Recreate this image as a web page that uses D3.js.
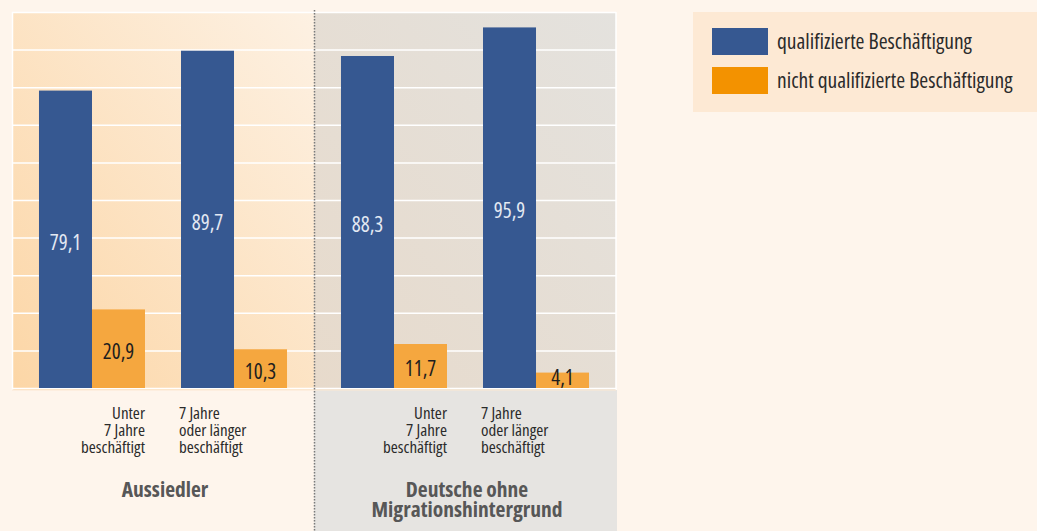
<!DOCTYPE html>
<html>
<head>
<meta charset="utf-8">
<script src="https://cdn.jsdelivr.net/npm/d3@7"></script>
<style>
  html, body { margin: 0; padding: 0; background: #fef5ec; }
  svg { display: block; }
  text { font-family: "Open Sans", "DejaVu Sans Condensed", sans-serif; font-stretch: 75%; }
</style>
</head>
<body>
<div id="chart"></div>
<script>
// Daten
const groups = ["Aussiedler", "Deutsche ohne Migrationshintergrund"];
const groupLines = [["Aussiedler"], ["Deutsche ohne", "Migrationshintergrund"]];
const categories = ["unter7", "ab7"];
const categoryLines = [["Unter", "7 Jahre", "beschäftigt"], ["7 Jahre", "oder länger", "beschäftigt"]];
const series = ["qualifizierte Beschäftigung", "nicht qualifizierte Beschäftigung"];
// Werte je Gruppe: [Unter 7 Jahre, 7 Jahre oder länger]
const qualifiziert = [[79.1, 89.7], [88.3, 95.9]];
const nichtQualifiziert = [[20.9, 10.3], [11.7, 4.1]];
const yTicks = [0, 10, 20, 30, 40, 50, 60, 70, 80, 90, 100];

const width = 1037;
const height = 531;
const margin = { top: 12, left: 12, right: 421, bottom: 143 };

const barColors = ["#365891", "#f5a73f"];
const legendColors = ["#365891", "#f39200"];

const svg = d3.select("#chart")
    .append("svg")
    .attr("width", width)
    .attr("height", height);

// Skalen
const y = d3.scaleLinear()
    .domain([0, 100])
    .range([height - margin.bottom, margin.top]);

const x0 = d3.scaleBand()
    .domain(groups)
    .range([margin.left, width - margin.right]);

const x1 = d3.scaleBand()
    .domain(categories)
    .range([0, x0.bandwidth()])
    .paddingInner(0.2535)
    .paddingOuter(0.19);

const x2 = d3.scaleBand()
    .domain(series)
    .range([0, x1.bandwidth()]);

// Verläufe
const defs = svg.append("defs");
function gradient(id, from, to) {
    const g = defs.append("linearGradient")
        .attr("id", id)
        .attr("x1", "0%").attr("y1", "100%")
        .attr("x2", "100%").attr("y2", "0%");
    g.append("stop").attr("offset", "0%").attr("stop-color", from);
    g.append("stop").attr("offset", "100%").attr("stop-color", to);
}
gradient("bgLeft", "#fcd6a6", "#fdf1e3");
gradient("bgRight", "#e7dacb", "#e4e2de");

const baseY = y(0);

// Grauer Bereich unter der rechten Gruppe
svg.append("rect")
    .attr("x", x0(groups[1]))
    .attr("y", baseY + 2)
    .attr("width", x0.bandwidth() + 1)
    .attr("height", height - baseY - 2)
    .attr("fill", "#e6e4e1");

// Hintergrund der Gruppen
svg.selectAll(".panel")
    .data(groups)
    .enter()
    .append("rect")
    .attr("class", "panel")
    .attr("x", d => x0(d))
    .attr("y", y(100))
    .attr("width", x0.bandwidth())
    .attr("height", baseY + 2 - y(100))
    .attr("fill", (d, i) => i === 0 ? "url(#bgLeft)" : "url(#bgRight)");

// Gitterlinien
svg.append("g")
    .selectAll("line")
    .data(yTicks)
    .enter()
    .append("line")
    .attr("x1", margin.left)
    .attr("x2", width - margin.right)
    .attr("y1", d => y(d) + 0.5)
    .attr("y2", d => y(d) + 0.5)
    .attr("stroke", "#ffffff")
    .attr("stroke-width", 1.5);

// Rahmen links/rechts/unten
svg.append("line")
    .attr("x1", margin.left + 0.5).attr("x2", margin.left + 0.5)
    .attr("y1", y(100)).attr("y2", baseY + 2)
    .attr("stroke", "#ffffff").attr("stroke-width", 1.5);
svg.append("line")
    .attr("x1", width - margin.right).attr("x2", width - margin.right)
    .attr("y1", y(100)).attr("y2", baseY + 2)
    .attr("stroke", "#ffffff").attr("stroke-width", 1.5);
svg.append("line")
    .attr("x1", margin.left).attr("x2", width - margin.right)
    .attr("y1", baseY + 2).attr("y2", baseY + 2)
    .attr("stroke", "#fbe8d2").attr("stroke-width", 1);

// Balken
const rows = [];
groups.forEach((g, gi) => {
    categories.forEach((c, ci) => {
        rows.push({ group: g, cat: c, series: series[0], si: 0, value: qualifiziert[gi][ci] });
        rows.push({ group: g, cat: c, series: series[1], si: 1, value: nichtQualifiziert[gi][ci] });
    });
});

const barX = d => x0(d.group) + x1(d.cat) + x2(d.series);

svg.selectAll(".bar")
    .data(rows)
    .enter()
    .append("rect")
    .attr("class", "bar")
    .attr("x", barX)
    .attr("y", d => y(d.value))
    .attr("width", x2.bandwidth())
    .attr("height", d => baseY - y(d.value))
    .attr("fill", d => barColors[d.si]);

// Wertbeschriftungen
const fmt = v => d3.format(".1f")(v).replace(".", ",");
svg.selectAll(".label")
    .data(rows)
    .enter()
    .append("text")
    .attr("class", "label")
    .attr("x", d => barX(d) + x2.bandwidth() / 2)
    .attr("y", d => Math.min(y(d.value / 2) + 3, baseY - 10))
    .attr("dy", "0.35em")
    .attr("text-anchor", "middle")
    .style("font-size", "21px")
    .style("fill", d => d.si === 0 ? "#e3e9f3" : "#1e1e1e")
    .text(d => fmt(d.value));

// Trennlinie
svg.append("line")
    .attr("x1", x0(groups[1]) + 0.5).attr("x2", x0(groups[1]) + 0.5)
    .attr("y1", 10).attr("y2", height)
    .attr("stroke", "#7a7a7a")
    .attr("stroke-width", 1.5)
    .attr("stroke-dasharray", "1.5,1.5");

// Kategorienbeschriftungen
groups.forEach(g => {
    categories.forEach((c, ci) => {
        const left = ci === 0;
        const xPos = left
            ? x0(g) + x1(c) + x1.bandwidth()
            : x0(g) + x1(c) - 2;
        const t = svg.append("text")
            .attr("x", xPos)
            .attr("y", baseY + 31)
            .attr("text-anchor", left ? "end" : "start")
            .style("font-size", "17px")
            .style("fill", "#2b2b2b");
        categoryLines[ci].forEach((line, li) => {
            t.append("tspan")
                .attr("x", xPos)
                .attr("dy", li === 0 ? 0 : 17)
                .text(line);
        });
    });
});

// Gruppenbeschriftungen
groups.forEach((g, gi) => {
    const cx = x0(g) + x0.bandwidth() / 2 + 2;
    const t = svg.append("text")
        .attr("x", cx)
        .attr("y", baseY + 109)
        .attr("text-anchor", "middle")
        .style("font-size", "21.5px")
        .style("font-weight", "bold")
        .style("fill", "#575757");
    groupLines[gi].forEach((line, li) => {
        t.append("tspan")
            .attr("x", cx)
            .attr("dy", li === 0 ? 0 : 20)
            .text(line);
    });
});

// Legende
const legend = svg.append("g")
    .attr("transform", "translate(693,12)");

legend.append("rect")
    .attr("width", width - 693)
    .attr("height", 100)
    .attr("fill", "#fde9d4");

series.forEach((s, i) => {
    legend.append("rect")
        .attr("x", 19)
        .attr("y", 16 + i * 39)
        .attr("width", 56)
        .attr("height", 27)
        .attr("fill", legendColors[i]);
    legend.append("text")
        .attr("x", 84)
        .attr("y", 29.5 + i * 39)
        .attr("dy", "0.35em")
        .style("font-size", "21.5px")
        .style("fill", "#2b2b2b")
        .text(s);
});
</script>
</body>
</html>
